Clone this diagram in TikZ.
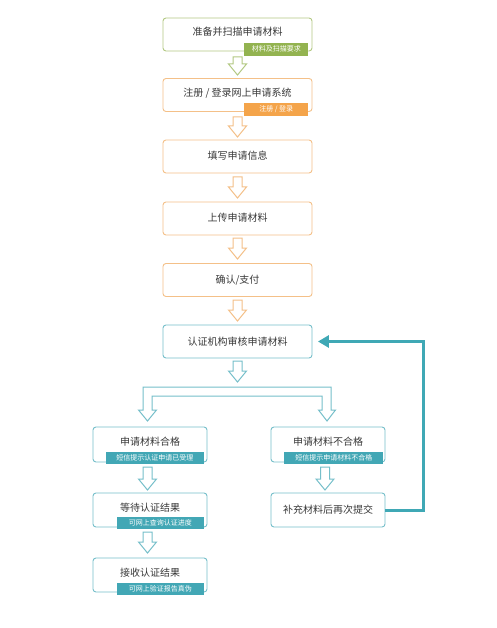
\documentclass[tikz,border=0pt]{standalone}
\usepackage{fontspec}
\setmainfont{Noto Sans CJK SC}
\usetikzlibrary{arrows.meta,calc}
\definecolor{gB}{HTML}{B3C983}
\definecolor{gL}{HTML}{93B350}
\definecolor{oB}{HTML}{F4C088}
\definecolor{oL}{HTML}{F4A44A}
\definecolor{tB}{HTML}{76BFCA}
\definecolor{tL}{HTML}{42A7B5}
\definecolor{tF}{HTML}{3FA8B5}
\definecolor{txt}{HTML}{383838}
\tikzset{
  box/.style={draw=#1, fill=white, line width=0.9pt, rounded corners=3pt,
    text=txt, font=\fontsize{10}{12}\selectfont, inner sep=0pt,
    text height=8.5pt, text depth=1.5pt},
  wide/.style={minimum width=149pt, minimum height=33pt},
  narrow/.style={minimum width=114pt, minimum height=34pt},
  haslab/.style={text depth=6pt},
  lab/.style={fill=#1, text=white, font=\fontsize{7}{8}\selectfont,
    inner sep=0pt, anchor=south east, text height=6pt, text depth=1.5pt},
  hollow/.style={draw=#1, fill=white, line width=1pt, line join=miter},
  fb/.style={draw=tF, line width=3pt, -{Triangle[length=11pt,width=12pt]}}
}
\newcommand\hollowarr[4]{%
  \draw[hollow=#1] (#2-4.5,#3) -- (#2-4.5,#4-11) -- (#2-9,#4-11) -- (#2,#4)
    -- (#2+9,#4-11) -- (#2+4.5,#4-11) -- (#2+4.5,#3) -- cycle;}
\begin{document}
\begin{tikzpicture}[x=1pt,y=-1pt]
\useasboundingbox[fill=white] (0,0) rectangle (497,628);
% top column
\node[box=gB, wide, haslab] (b1) at (237.5,34.5) {准备并扫描申请材料};
\node[box=oB, wide, haslab] (b2) at (237.5,95) {注册 / 登录网上申请系统};
\node[box=oB, wide] (b3) at (237.5,156.5) {填写申请信息};
\node[box=oB, wide] (b4) at (237.5,218.5) {上传申请材料};
\node[box=oB, wide] (b5) at (237.5,280) {确认/支付};
\node[box=tB, wide] (b6) at (237.5,341.5) {认证机构审核申请材料};
% lower
\node[box=tB, narrow, minimum height=35pt, haslab] (b7) at (150,444.5) {申请材料合格};
\node[box=tB, narrow, minimum height=35pt, haslab] (b8) at (328,444.5) {申请材料不合格};
\node[box=tB, narrow, haslab] (b9) at (150,510) {等待认证结果};
\node[box=tB, narrow] (b10) at (328,510) {补充材料后再次提交};
\node[box=tB, narrow, haslab] (b11) at (150,575) {接收认证结果};
% labels
\node[lab=gL, minimum width=64pt, minimum height=13pt] (l1) at ($(b1.south east)+(-4,5)$) {材料及扫描要求};
\node[lab=oL, minimum width=64pt, minimum height=13pt] (l2) at ($(b2.south east)+(-4,4)$) {注册 / 登录};
\node[lab=tL, minimum width=98pt, minimum height=12pt] (l7) at ($(b7.south east)+(-3.5,1.5)$) {短信提示认证申请已受理};
\node[lab=tL, minimum width=99pt, minimum height=12pt] (l8) at ($(b8.south east)+(-2,1.5)$) {短信提示申请材料不合格};
\node[lab=tL, minimum width=87pt, minimum height=12pt] (l9) at ($(b9.south east)+(-3.5,2)$) {可网上查询认证进度};
\node[lab=tL, minimum width=87pt, minimum height=12pt] (l11) at ($(b11.south east)+(-3.5,2.5)$) {可网上验证报告真伪};
% hollow arrows
\hollowarr{gB}{237.5}{57}{75}
\hollowarr{oB}{237.5}{117}{137}
\hollowarr{oB}{237.5}{177}{198}
\hollowarr{oB}{237.5}{238}{259}
\hollowarr{oB}{237.5}{300}{321}
\hollowarr{tB}{237.5}{361}{382}
\hollowarr{tB}{147.5}{467}{490}
\hollowarr{tB}{325}{467}{490}
\hollowarr{tB}{147.5}{532}{553}
% split bracket
\draw[hollow=tB] (143,410) -- (143,387) -- (331,387) -- (331,410) -- (335.5,410)
  -- (327,421) -- (318.5,410) -- (322,410) -- (322,396) -- (152,396) -- (152,410)
  -- (156.5,410) -- (147.5,421) -- (138.5,410) -- cycle;
% feedback
\draw[fb, shorten >=5.5pt] (b10.east) -- ++(38,0) |- (b6.east);
\end{tikzpicture}
\end{document}
